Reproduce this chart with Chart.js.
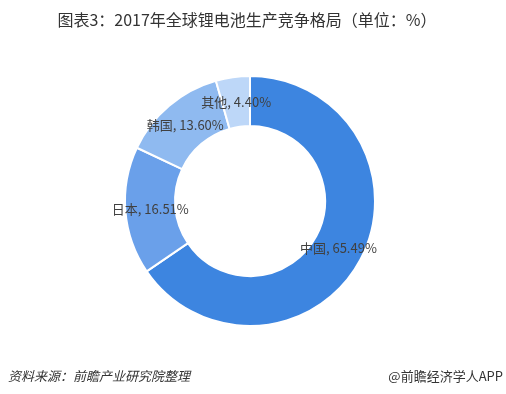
<!DOCTYPE html>
<html>
<head>
<meta charset="utf-8">
<script src="https://cdn.jsdelivr.net/npm/chart.js@4"></script>
<style>
    html, body { margin: 0; padding: 0; background: #fff; }
    #wrap { width: 506px; height: 394px; }
</style>
</head>
<body>
<div id="wrap"><canvas id="graphique" width="506" height="394"></canvas></div>
<script>
// données
const categories = ['中国', '日本', '韩国', '其他'];
const valeurs = [65.49, 16.51, 13.60, 4.40];
const couleurs = ['#3d85e0', '#6aa0ea', '#8fbaf0', '#bdd7f8'];

const titre = '图表3：2017年全球锂电池生产竞争格局（单位：%）';
const source = '资料来源：前瞻产业研究院整理';
const signature = '@前瞻经济学人APP';

const police = '"Noto Sans CJK SC", "Noto Sans", sans-serif';

/**
 * Dessine le titre, les étiquettes des parts et le pied de page
 */
const textes = {
    id: 'textes',
    afterDatasetsDraw(chart) {
        const ctx = chart.ctx;
        ctx.save();

        // étiquettes au milieu de l'anneau
        const meta = chart.getDatasetMeta(0);
        ctx.font = '13px ' + police;
        ctx.fillStyle = '#404040';
        ctx.textAlign = 'center';
        ctx.textBaseline = 'middle';
        meta.data.forEach((arc, i) => {
            const p = arc.tooltipPosition();
            ctx.fillText(categories[i] + ', ' + valeurs[i].toFixed(2) + '%', p.x, p.y);
        });

        // titre
        ctx.font = '16px ' + police;
        ctx.fillStyle = '#333333';
        ctx.fillText(titre, 247, 20);

        // pied de page
        ctx.font = 'italic 13px ' + police;
        ctx.textAlign = 'left';
        ctx.fillText(source, 8, 376);
        ctx.font = '13px ' + police;
        ctx.textAlign = 'right';
        ctx.fillText(signature, 503, 376);

        ctx.restore();
    }
};

const ctx = document.getElementById('graphique').getContext('2d');
new Chart(ctx, {
    type: 'doughnut',
    data: {
        labels: categories,
        datasets: [{
            data: valeurs,
            backgroundColor: couleurs,
            borderColor: '#ffffff',
            borderWidth: 2
        }]
    },
    options: {
        responsive: false,
        animation: false,
        cutout: '60%',
        layout: {
            padding: {top: 75, bottom: 67, left: 124, right: 130}
        },
        plugins: {
            legend: {display: false},
            tooltip: {enabled: false},
            title: {display: false}
        }
    },
    plugins: [textes]
});
</script>
</body>
</html>
